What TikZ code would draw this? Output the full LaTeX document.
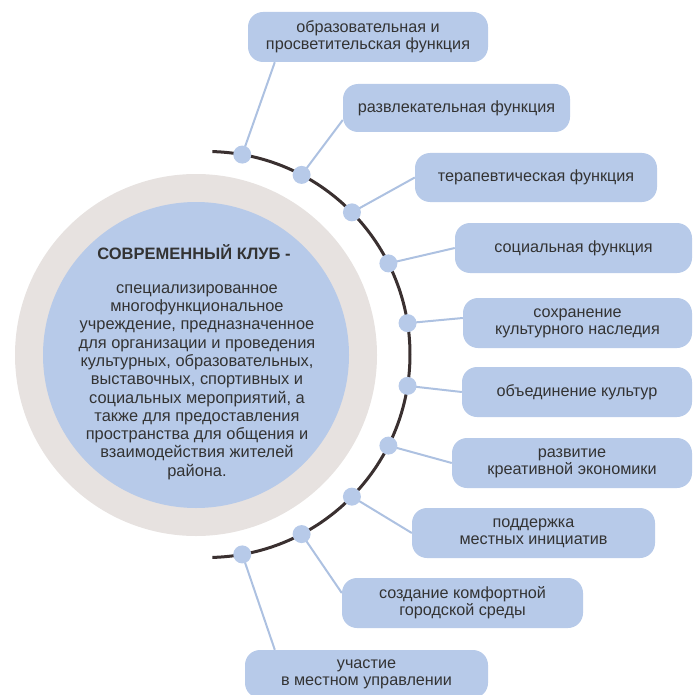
\documentclass[tikz,border=0pt]{standalone}
\usepackage{fontspec}
\setmainfont{Liberation Sans}
\usetikzlibrary{calc,backgrounds}
\definecolor{boxblue}{HTML}{B7CAE9}
\definecolor{ringgrey}{HTML}{E7E2E0}
\definecolor{arcdark}{HTML}{3A3030}
\definecolor{linkblue}{HTML}{ADC1E1}
\definecolor{txt}{HTML}{333333}
\begin{document}
\begin{tikzpicture}[x=1pt,y=-1pt,
  fbox/.style={fill=boxblue, rounded corners=15pt, minimum height=50pt,
    align=center, font=\fontsize{16.2}{17}\selectfont, text=txt, inner sep=0pt},
  dotn/.style={circle, fill=boxblue, minimum size=18pt, inner sep=0pt},
  link/.style={draw=linkblue, line width=2pt},
  bigtext/.style={align=center, text=txt, inner sep=0pt}]
\useasboundingbox (0,0) rectangle (693,695);
% central circles
\node[circle, fill=ringgrey, minimum size=362pt, inner sep=0pt] (ring) at (196,355) {};
\node[circle, fill=boxblue, minimum size=306pt, inner sep=0pt] (core) at (196,355) {};
\node[bigtext, font=\fontsize{16.5}{18}\selectfont\bfseries] (title) at (194,252) {СОВРЕМЕННЫЙ КЛУБ -};
\node[bigtext, font=\fontsize{16.4}{18.3}\selectfont] (body) at (197,382) {специализированное\\многофункциональное\\учреждение, предназначенное\\для организации и проведения\\культурных, образовательных,\\выставочных, спортивных и\\социальных мероприятий, а\\также для предоставления\\пространства для общения и\\взаимодействия жителей\\района.};
% arc
\coordinate (ac) at (207,354.5);
\draw[arcdark, line width=3pt] (ac) ++(88.5:203pt) arc[start angle=88.5, end angle=-88.5, radius=203pt];
% dots
\foreach \i in {0,...,9}{
  \node[dotn] (d\i) at ($(ac)+({80-\i*160/9}:203pt)$) {};
}
% boxes
\node[fbox, minimum width=240pt] (b1) at (368,37) {образовательная и\\просветительская функция};
\node[fbox, minimum width=227pt, minimum height=48pt] (b2) at (456.5,108) {развлекательная функция};
\node[fbox, minimum width=242pt, minimum height=49pt] (b3) at (536,177.5) {терапевтическая функция};
\node[fbox, minimum width=237pt] (b4) at (573.5,248) {социальная функция};
\node[fbox, minimum width=229pt] (b5) at (577.5,323) {сохранение\\культурного наследия};
\node[fbox, minimum width=230pt] (b6) at (577,392) {объединение культур};
\node[fbox, minimum width=240pt] (b7) at (572,463) {развитие\\креативной экономики};
\node[fbox, minimum width=243pt] (b8) at (533.5,533) {поддержка\\местных инициатив};
\node[fbox, minimum width=241pt] (b9) at (462.5,603) {создание комфортной\\городской среды};
\node[fbox, minimum width=243pt, minimum height=48pt] (b10) at (366.5,674) {участие\\в местном управлении};
% connectors
\begin{pgfonlayer}{background}
\draw[link] (d0.center) -- ($(b1.south west)+(27,0)$);
\draw[link] (d1.center) -- ($(b2.west)+(0,12)$);
\draw[link] (d2.center) -- (b3.west);
\draw[link] (d3.center) -- (b4.west);
\draw[link] (d4.center) -- ($(b5.west)+(0,-5)$);
\draw[link] (d5.center) -- (b6.west);
\draw[link] (d6.center) -- (b7.west);
\draw[link] (d7.center) -- (b8.west);
\draw[link] (d8.center) -- ($(b9.west)+(0,-10)$);
\draw[link] (d9.center) -- ($(b10.north west)+(30,0)$);
\end{pgfonlayer}
\end{tikzpicture}
\end{document}
